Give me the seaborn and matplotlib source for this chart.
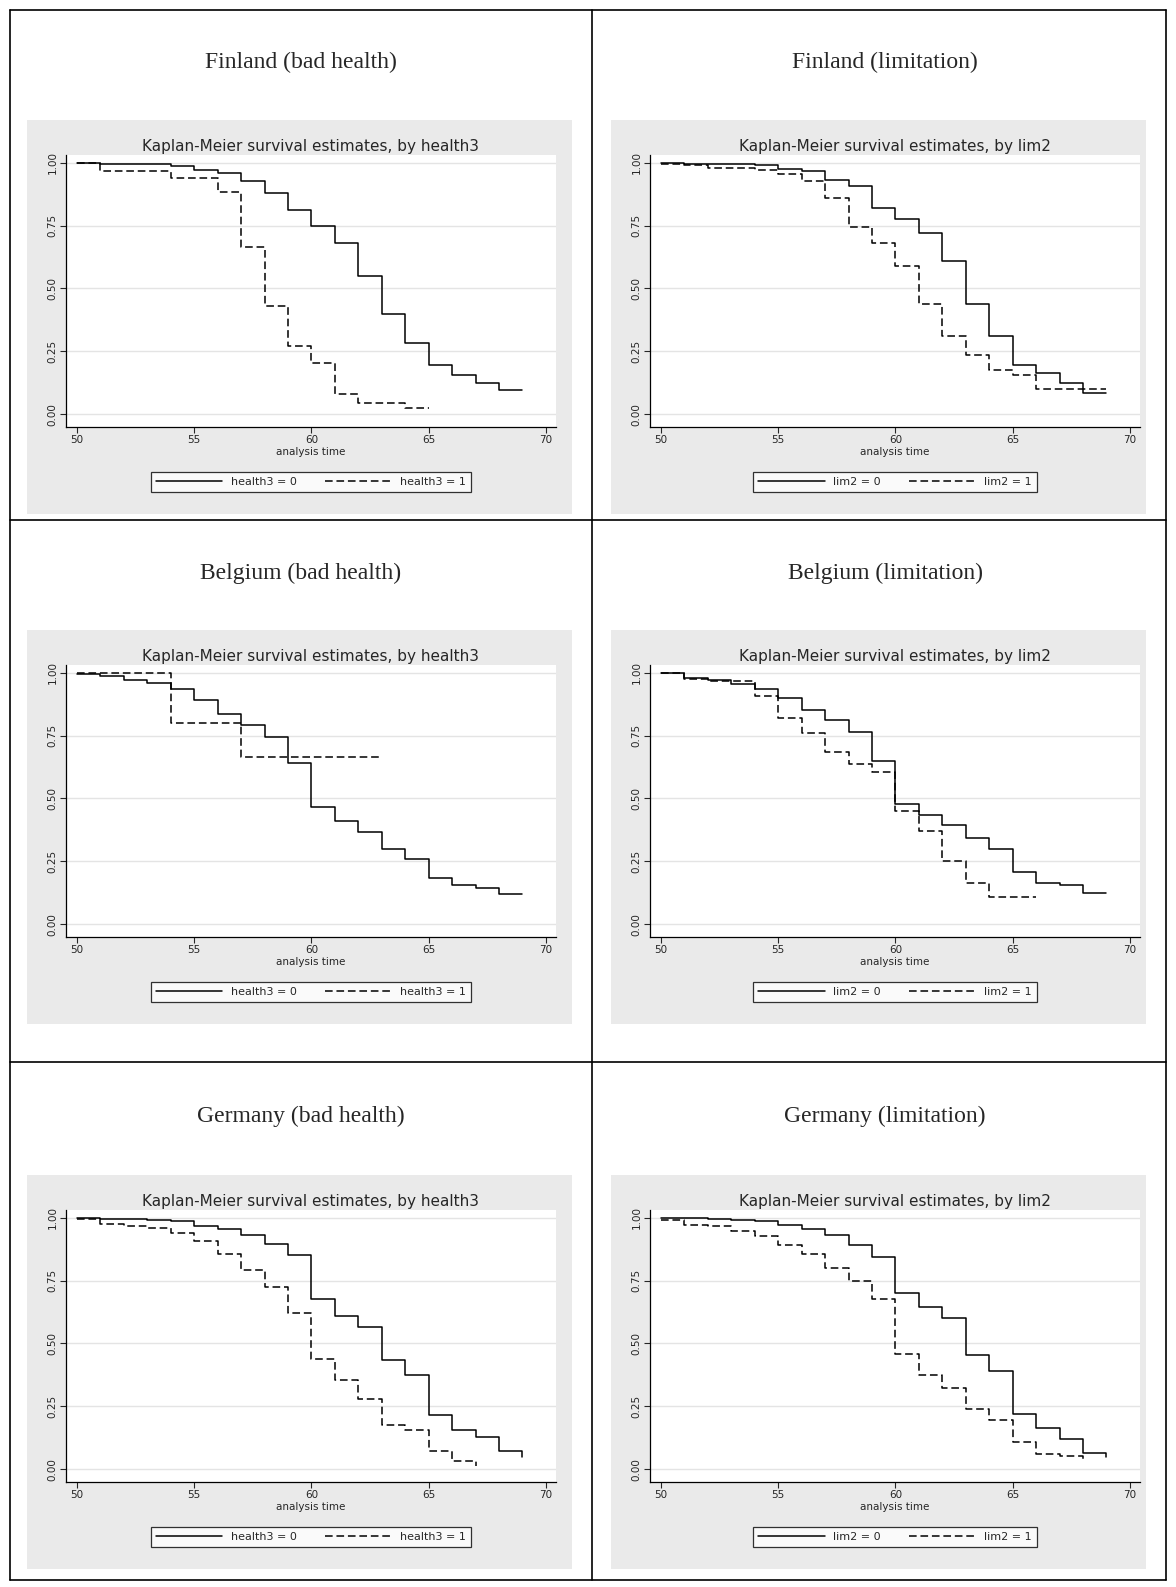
import numpy as np
import pandas as pd
import matplotlib
matplotlib.use("Agg")
import matplotlib.pyplot as plt
import seaborn as sns
from matplotlib.patches import Rectangle

sns.set_theme(style="white")
plt.rcParams['font.family'] = ['DejaVu Sans']

# survival estimates at each integer age starting from 50
fin_h0 = [1.0, 0.995, 0.995, 0.995, 0.985, 0.97, 0.96, 0.925, 0.88, 0.81, 0.75, 0.68, 0.55, 0.40, 0.285, 0.195, 0.155, 0.125, 0.095, 0.095]
fin_h1 = [1.0, 0.965, 0.965, 0.965, 0.94, 0.94, 0.885, 0.665, 0.43, 0.27, 0.205, 0.08, 0.045, 0.045, 0.025, 0.025]
fin_l0 = [0.997, 0.995, 0.995, 0.995, 0.99, 0.975, 0.965, 0.93, 0.905, 0.82, 0.775, 0.72, 0.61, 0.44, 0.31, 0.195, 0.165, 0.125, 0.085, 0.085]
fin_l1 = [0.995, 0.99, 0.98, 0.98, 0.97, 0.955, 0.925, 0.86, 0.745, 0.68, 0.59, 0.44, 0.31, 0.235, 0.175, 0.155, 0.10, 0.10, 0.10, 0.10]
bel_h0 = [0.995, 0.985, 0.97, 0.96, 0.935, 0.89, 0.835, 0.79, 0.745, 0.64, 0.465, 0.41, 0.365, 0.30, 0.26, 0.185, 0.155, 0.145, 0.12, 0.12]
bel_h1 = [1.0, 1.0, 1.0, 1.0, 0.80, 0.80, 0.80, 0.665, 0.665, 0.665, 0.665, 0.665, 0.665, 0.665]
bel_l0 = [1.0, 0.98, 0.97, 0.955, 0.935, 0.90, 0.85, 0.81, 0.765, 0.65, 0.48, 0.435, 0.395, 0.345, 0.30, 0.21, 0.165, 0.155, 0.125, 0.125]
bel_l1 = [1.0, 0.975, 0.965, 0.965, 0.905, 0.82, 0.76, 0.685, 0.635, 0.605, 0.45, 0.37, 0.25, 0.165, 0.11, 0.11, 0.11]
ger_h0 = [1.0, 0.995, 0.995, 0.99, 0.985, 0.965, 0.955, 0.93, 0.895, 0.85, 0.675, 0.61, 0.565, 0.435, 0.375, 0.215, 0.155, 0.13, 0.075, 0.05]
ger_h1 = [0.995, 0.975, 0.965, 0.96, 0.94, 0.905, 0.855, 0.79, 0.725, 0.62, 0.44, 0.355, 0.28, 0.175, 0.155, 0.075, 0.035, 0.015]
ger_l0 = [1.0, 1.0, 0.995, 0.99, 0.985, 0.97, 0.955, 0.93, 0.89, 0.845, 0.70, 0.645, 0.60, 0.455, 0.39, 0.22, 0.165, 0.12, 0.065, 0.05]
ger_l1 = [0.99, 0.97, 0.965, 0.945, 0.925, 0.89, 0.855, 0.80, 0.75, 0.675, 0.46, 0.375, 0.325, 0.24, 0.195, 0.11, 0.06, 0.055, 0.04]

cell_titles = [["Finland (bad health)", "Finland (limitation)"],
               ["Belgium (bad health)", "Belgium (limitation)"],
               ["Germany (bad health)", "Germany (limitation)"]]
series = [[(fin_h0, fin_h1), (fin_l0, fin_l1)],
          [(bel_h0, bel_h1), (bel_l0, bel_l1)],
          [(ger_h0, ger_h1), (ger_l0, ger_l1)]]
groupvars = ["health3", "lim2"]

W, H = 1176, 1587
fig = plt.figure(figsize=(W / 100, H / 100), dpi=100)
fig.patch.set_facecolor("white")


def fx(px):
    return px / W


def fy(py):
    return 1 - py / H


# table grid
row_lines = [10, 520, 1062, 1580]
for yy in row_lines:
    fig.add_artist(plt.Line2D([fx(10), fx(1166)], [fy(yy), fy(yy)], color="black", lw=1.2))
for xx in [10, 592, 1166]:
    fig.add_artist(plt.Line2D([fx(xx), fx(xx)], [fy(10), fy(1580)], color="black", lw=1.2))

title_y = [62, 573, 1116]
panel_top = [120, 630, 1175]
col_panel = [(27, 572), (611, 1146)]
col_axes = [(66, 556), (650, 1140)]
col_center = [301, 885]

for r in range(3):
    for c in range(2):
        fig.text(fx(col_center[c]), fy(title_y[r]), cell_titles[r][c], ha="center", va="center",
                 fontsize=17, family="Liberation Serif")
        pt = panel_top[r]
        p0, p1 = col_panel[c]
        fig.add_artist(Rectangle((fx(p0), fy(pt + 394)), fx(p1 - p0), (394) / H,
                                 facecolor="#eaeaea", edgecolor="none", zorder=0))
        a0, a1 = col_axes[c]
        ax = fig.add_axes([fx(a0), fy(pt + 307), fx(a1 - a0), 272 / H])
        ax.set_facecolor("white")
        g = groupvars[c]
        s0, s1 = series[r][c]
        for vals, ls, lab in [(s0, "-", f"{g} = 0"), (s1, (0, (5, 2.5)), f"{g} = 1")]:
            df = pd.DataFrame({"t": np.arange(50, 50 + len(vals)), "s": vals})
            sns.lineplot(data=df, x="t", y="s", drawstyle="steps-post", color="black",
                         linestyle=ls, lw=1.1, ax=ax, label=lab)
        ax.set_xlim(49.53, 70.43)
        ax.set_ylim(-0.05, 1.03)
        ax.set_xticks([50, 55, 60, 65, 70])
        ax.set_yticks([0, 0.25, 0.5, 0.75, 1.0])
        ax.set_yticklabels(["0.00", "0.25", "0.50", "0.75", "1.00"], rotation=90, va="center")
        ax.tick_params(axis="both", labelsize=7.5, length=4, width=0.8, direction="out",
                       bottom=True, left=True, pad=2)
        ax.grid(axis="y", color="#e4e4e4", lw=1)
        for side in ["top", "right"]:
            ax.spines[side].set_visible(False)
        for side in ["left", "bottom"]:
            ax.spines[side].set_color("black")
            ax.spines[side].set_linewidth(0.9)
        ax.set_xlabel("analysis time", fontsize=7.5, labelpad=1)
        ax.set_ylabel("")
        ax.set_title(f"Kaplan-Meier survival estimates, by {g}", fontsize=11, pad=3)
        leg = ax.legend(loc="upper center", bbox_to_anchor=(0.5, -0.145), ncol=2, fontsize=8,
                        frameon=True, fancybox=False, edgecolor="black", handlelength=6,
                        columnspacing=2.5, borderpad=0.45)
        leg.get_frame().set_linewidth(0.9)

fig.savefig("out.png", dpi=100, facecolor="white")
